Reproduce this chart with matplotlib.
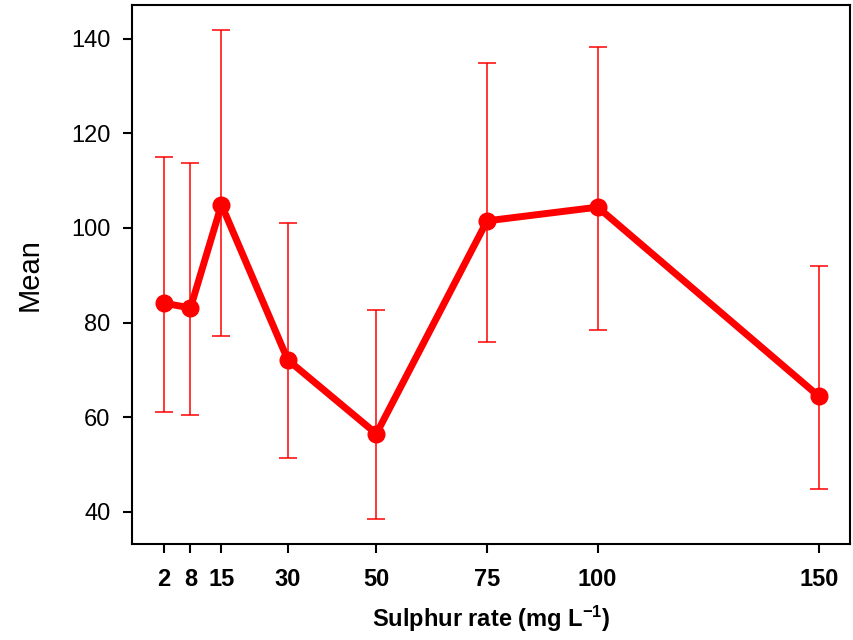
import numpy as np
import matplotlib.pyplot as plt

plt.rcParams['mathtext.fontset'] = 'custom'
plt.rcParams['mathtext.rm'] = 'Liberation Sans'
plt.rcParams['mathtext.bf'] = 'Liberation Sans:bold'

rate = [2, 8, 15, 30, 50, 75, 100, 150]
mean = [84.1, 83.1, 104.9, 72.1, 56.5, 101.5, 104.4, 64.4]
upper = [114.9, 113.7, 141.8, 101.0, 82.6, 134.9, 138.2, 92.0]
lower = [61.2, 60.4, 77.1, 51.3, 38.4, 76.0, 78.5, 44.8]
yticks = [40, 60, 80, 100, 120, 140]

mean_a = np.array(mean)
err = [mean_a - np.array(lower), np.array(upper) - mean_a]

fig = plt.figure(figsize=(8.54, 6.4), dpi=100)
ax = fig.add_axes([0.1546, 0.15, 0.8407, 0.842])

ax.errorbar(rate, mean, yerr=err, fmt='none', ecolor='red', elinewidth=1.1,
            capsize=6.5, capthick=1.1, zorder=2)
ax.plot(rate, mean, '-o', color='red', lw=5, markersize=12, zorder=3)

ax.set_xlim(-5.2, 157)
ax.set_ylim(33.2, 147.1)
ax.set_xticks(rate)
ax.set_yticks(yticks)

for s in ax.spines.values():
    s.set_linewidth(1.5)
ax.tick_params(direction='out', length=6.5, width=1.5)
ax.tick_params(axis='y', pad=9)
ax.tick_params(axis='x', pad=11)
for lab in ax.get_yticklabels():
    lab.set_family('Liberation Sans')
    lab.set_fontsize(17)
for lab in ax.get_xticklabels():
    lab.set_family('Liberation Sans')
    lab.set_fontweight('bold')
    lab.set_fontsize(17)

ax.set_ylabel('Mean', family='Liberation Sans', fontsize=21, labelpad=20)
ax.set_xlabel(r'Sulphur rate (mg L$\mathbf{^{-1}}$)', family='Liberation Sans',
              fontweight='bold', fontsize=17, labelpad=9)

plt.savefig('out.png', dpi=100)
plt.close(fig)
